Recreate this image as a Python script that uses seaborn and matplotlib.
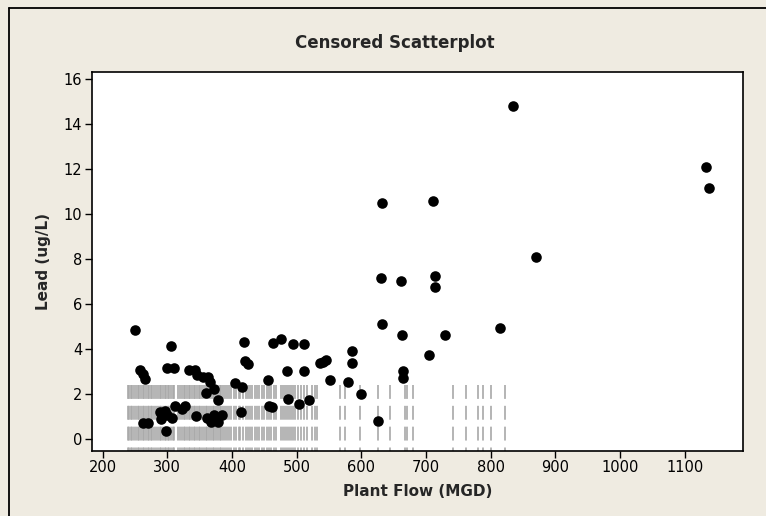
import matplotlib
matplotlib.use('Agg')
import matplotlib.pyplot as plt
import seaborn as sns
import pandas as pd
from matplotlib.lines import Line2D

# 检出的数据点 (Plant Flow, Lead)
flow = [250, 258, 262, 266, 262, 270, 288, 292, 296, 300, 290, 298, 300, 310, 305, 307,
        312, 322, 328, 333, 343, 346, 345, 355, 363, 366, 360, 372, 362, 368, 372, 378,
        384, 378, 405, 415, 414, 418, 420, 425, 456, 457, 462, 464, 476, 485, 487, 495,
        503, 511, 512, 519, 536, 541, 546, 551, 580, 586, 586, 599, 626, 630, 632, 632,
        661, 663, 665, 665, 704, 710, 714, 714, 729, 814, 835, 870, 1133, 1137]
lead = [4.85, 3.05, 2.9, 2.65, 0.7, 0.7, 1.2, 1.05, 1.25, 1.05, 0.9, 0.35, 3.15, 3.15, 4.15, 0.95,
        1.45, 1.35, 1.45, 3.05, 3.05, 2.85, 1.0, 2.75, 2.75, 2.55, 2.05, 2.2, 0.95, 0.75, 1.05, 0.75,
        1.05, 1.75, 2.5, 2.3, 1.19, 4.33, 3.47, 3.33, 2.62, 1.45, 1.4, 4.28, 4.44, 3.04, 1.78, 4.22,
        1.54, 4.22, 3.04, 1.73, 3.36, 3.44, 3.51, 2.62, 2.55, 3.91, 3.39, 2.0, 0.81, 7.15, 10.5, 5.11,
        7.0, 4.62, 3.04, 2.73, 3.73, 10.55, 7.22, 6.74, 4.62, 4.92, 14.8, 8.1, 12.1, 11.15]

# 删失数据 (低于检出限) 的流量
censored_flow = [239, 241, 244, 246, 249, 252, 254, 256, 259, 262, 264, 267, 270, 272, 275,
                 277, 280, 283, 285, 288, 290, 293, 296, 298, 301, 303, 306, 309, 311, 317,
                 319, 322, 325, 327, 330, 333, 335, 338, 341, 343, 346, 349, 351, 354, 357,
                 359, 362, 364, 367, 370, 372, 375, 378, 381, 383, 386, 389,
                 392, 396, 399, 403, 406, 410, 413, 417, 421, 424, 428, 431, 435, 439, 442,
                 446, 450, 454, 457, 461, 465, 468, 476, 479, 482, 485, 488, 491, 494, 497,
                 502, 507, 511, 516, 523, 528, 531,
                 567, 574, 598, 625, 644, 667, 671, 680, 742, 761, 780, 788, 801, 822]
detect_limit = 2.4

x_ticks = [200, 300, 400, 500, 600, 700, 800, 900, 1000, 1100]
y_ticks = [0, 2, 4, 6, 8, 10, 12, 14, 16]

df = pd.DataFrame({'Plant Flow (MGD)': flow, 'Lead (ug/L)': lead})

sns.set_style('white')
plt.rcParams['font.family'] = ['DejaVu Sans']
plt.rcParams['lines.scale_dashes'] = False

fig = plt.figure(figsize=(7.66, 5.16), dpi=100, facecolor='#EFEBE1')
ax = fig.add_axes([0.1201, 0.1265, 0.8499, 0.7349])
ax.set_facecolor('white')

# 删失值画成灰色虚线 (从检出限往下)
ax.vlines(censored_flow, detect_limit, -1.5, colors='#A8A8A8', linewidth=1.2,
          linestyles=(0, (10, 5)), zorder=2)

sns.scatterplot(data=df, x='Plant Flow (MGD)', y='Lead (ug/L)', color='black',
                s=58, linewidth=0, ax=ax, zorder=3)

ax.set_xlim(183.5, 1190)
ax.set_ylim(-0.52, 16.32)
ax.set_xticks(x_ticks)
ax.set_yticks(y_ticks)
ax.tick_params(bottom=True, left=True, direction='out', length=5, width=1,
               color='black', labelsize=10.5, labelcolor='black', pad=2)
for sp in ax.spines.values():
    sp.set_color('black')
    sp.set_linewidth(1.2)

ax.set_xlabel('Plant Flow (MGD)', fontsize=11, fontweight='bold', labelpad=6)
ax.set_ylabel('Lead (ug/L)', fontsize=11, fontweight='bold', labelpad=9)
fig.text(0.515, 0.917, 'Censored Scatterplot', ha='center', va='center',
         fontsize=12, fontweight='bold')

# 外边框
fig.add_artist(Line2D([0.0118, 1], [0.9845, 0.9845], color='black', lw=1.3))
fig.add_artist(Line2D([0.0118, 0.0118], [0, 0.9845], color='black', lw=1.3))

fig.savefig('out.png', dpi=100, facecolor=fig.get_facecolor())
